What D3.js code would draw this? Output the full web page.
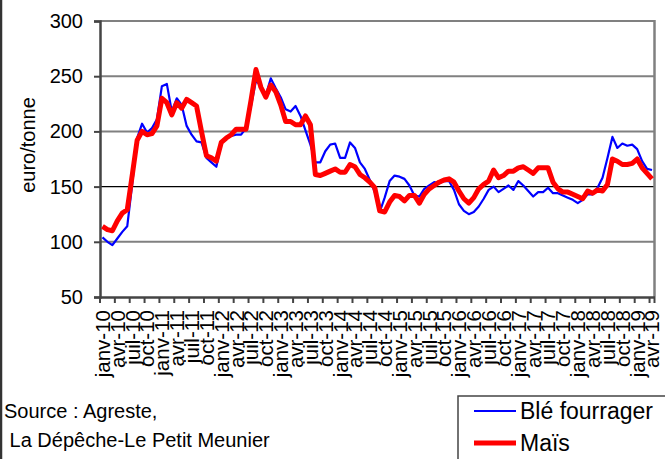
<!DOCTYPE html>
<html>
<head>
<meta charset="utf-8">
<script src="https://cdn.jsdelivr.net/npm/d3@7"></script>
<style>
body { margin: 0; background: #fff; }
text { font-family: "Liberation Sans", Arial, sans-serif; font-size: 20px; fill: #000; }
</style>
</head>
<body>
<script>
//Months and years of the x axis (janv-10 -> avr-19)
const annees = ["10","11","12","13","14","15","16","17","18","19"];
const mois = ["janv","févr","mars","avr","mai","juin","juil","août","sept","oct","nov","déc"];
let categories = [];
annees.forEach(a => mois.forEach(m => categories.push(m + "-" + a)));
categories = categories.slice(0, 112);

//Only one label every quarter
const tickLabels = categories.filter((d, i) => i % 3 == 0);
const yTicks = [50, 100, 150, 200, 250, 300];

//Prices, euro/tonne
const ble = [104, 100, 97, 103, 109, 114, 152, 194, 207, 199,
  203, 211, 241, 243, 218, 230, 224, 205, 197, 191,
  190, 176, 172, 168, 189, 195, 196, 197, 197, 203,
  223, 246, 241, 233, 248, 239, 231, 220, 218, 223,
  214, 201, 188, 172, 172, 182, 188, 189, 176, 176,
  190, 185, 172, 166, 156, 145, 127, 140, 155, 160,
  159, 157, 151, 142, 141, 148, 151, 154, 153, 155,
  155, 147, 134, 128, 125, 127, 132, 139, 147, 150,
  145, 148, 151, 147, 155, 151, 146, 141, 145, 145,
  149, 144, 144, 142, 140, 138, 135, 138, 143, 143,
  149, 158, 176, 195, 185, 189, 187, 188, 184, 173,
  166, 165];
const mais = [114, 111, 110, 119, 126, 129, 160, 192, 200, 197,
  198, 205, 230, 226, 215, 226, 221, 229, 226, 223,
  200, 178, 176, 173, 190, 194, 197, 202, 202, 202,
  228, 256, 240, 231, 242, 236, 224, 209, 209, 206,
  206, 214, 206, 161, 160, 162, 164, 166, 163, 163,
  170, 168, 161, 158, 154, 149, 128, 127, 136, 142,
  141, 137, 142, 142, 135, 143, 148, 151, 154, 156,
  157, 154, 146, 139, 135, 140, 148, 152, 155, 165,
  158, 160, 164, 164, 167, 168, 165, 162, 167, 167,
  167, 154, 148, 145, 145, 143, 141, 139, 146, 144,
  147, 146, 152, 175, 173, 170, 170, 171, 175, 167,
  162, 157];

const width = 665, height = 459;
const plot = {left: 100, right: 654.5, top: 21, bottom: 297};

const svg = d3.select("body").append("svg")
  .attr("width", width)
  .attr("height", height);

svg.append("rect").attr("width", width).attr("height", height).attr("fill", "#fff");

//Scales
const xScale = d3.scaleBand().domain(categories).range([plot.left, plot.right]).padding(0);
const yScale = d3.scaleLinear().domain([50, 300]).range([plot.bottom, plot.top]);
const xc = d => xScale(d) + xScale.bandwidth() / 2;

//Gridlines (150 is a thin black line)
svg.append("g").selectAll("line")
  .data(yTicks.filter(d => d > 50))
  .enter().append("line")
  .attr("x1", plot.left).attr("x2", plot.right)
  .attr("y1", d => yScale(d)).attr("y2", d => yScale(d))
  .attr("stroke", d => d == 150 ? "#000" : "#808080")
  .attr("stroke-width", d => d == 150 ? 1.3 : 2);

//Right border of plot area
svg.append("line")
  .attr("x1", plot.right).attr("x2", plot.right)
  .attr("y1", plot.top - 1).attr("y2", plot.bottom)
  .attr("stroke", "#808080").attr("stroke-width", 2.5);

//Y axis
const yAxis = d3.axisLeft(yScale).tickValues(yTicks).tickSize(6).tickPadding(11);
const gy = svg.append("g")
  .attr("transform", "translate(" + plot.left + ",0)")
  .call(yAxis);
gy.select(".domain").attr("stroke", "#444").attr("stroke-width", 2.5);
gy.selectAll(".tick line").attr("stroke", "#444").attr("stroke-width", 2);
gy.selectAll("text").attr("font-family", null).attr("fill", "#000");

//X axis: labels centered on quarters, tick marks between categories
const xAxis = d3.axisBottom(xScale).tickValues(tickLabels).tickSize(0);
const gx = svg.append("g")
  .attr("transform", "translate(0," + plot.bottom + ")")
  .call(xAxis);
gx.select(".domain").attr("stroke", "#444").attr("stroke-width", 2.5);
gx.selectAll("text")
  .style("font-size", "20.5px").attr("font-family", null).attr("fill", "#000")
  .attr("transform", "rotate(-90)")
  .attr("x", -13).attr("y", 0).attr("dy", "0.36em")
  .style("text-anchor", "end");
gx.selectAll(".xtick")
  .data(tickLabels.map(d => xScale(d)).concat([plot.right]))
  .enter().append("line")
  .attr("class", "xtick")
  .attr("x1", d => d).attr("x2", d => d)
  .attr("y1", 0).attr("y2", 6)
  .attr("stroke", "#444").attr("stroke-width", 2);

//Y axis title
svg.append("text")
  .attr("transform", "translate(35,145) rotate(-90)")
  .attr("text-anchor", "middle")
  .text("euro/tonne");

//Lines
const line = d3.line()
  .x((d, i) => xc(categories[i]))
  .y(d => yScale(d));

svg.append("path").datum(ble)
  .attr("d", line)
  .attr("fill", "none").attr("stroke", "#0000ff").attr("stroke-width", 2.2)
  .attr("stroke-linejoin", "round");

svg.append("path").datum(mais)
  .attr("d", line)
  .attr("fill", "none").attr("stroke", "#ff0000").attr("stroke-width", 5)
  .attr("stroke-linejoin", "round");

//Source
svg.append("text").attr("x", 4).attr("y", 418).text("Source : Agreste,");
svg.append("text").attr("x", 4).attr("y", 447).attr("xml:space", "preserve").text(" La Dépêche-Le Petit Meunier");

//Legend
const legend = svg.append("g");
legend.append("rect")
  .attr("x", 458).attr("y", 396).attr("width", 220).attr("height", 80)
  .attr("fill", "#fff").attr("stroke", "#444").attr("stroke-width", 1.5);
const items = [["Blé fourrager", "#0000ff", 2.2, 411], ["Maïs", "#ff0000", 5, 443]];
items.forEach(it => {
  legend.append("line")
    .attr("x1", 474).attr("x2", 516)
    .attr("y1", it[3]).attr("y2", it[3])
    .attr("stroke", it[1]).attr("stroke-width", it[2]);
  legend.append("text")
    .attr("x", 520).attr("y", it[3] + 8)
    .style("font-size", "23px")
    .text(it[0]);
});

//Left frame edge
svg.append("line")
  .attr("x1", 1).attr("x2", 1).attr("y1", 0).attr("y2", height)
  .attr("stroke", "#333").attr("stroke-width", 2.5);
</script>
</body>
</html>
